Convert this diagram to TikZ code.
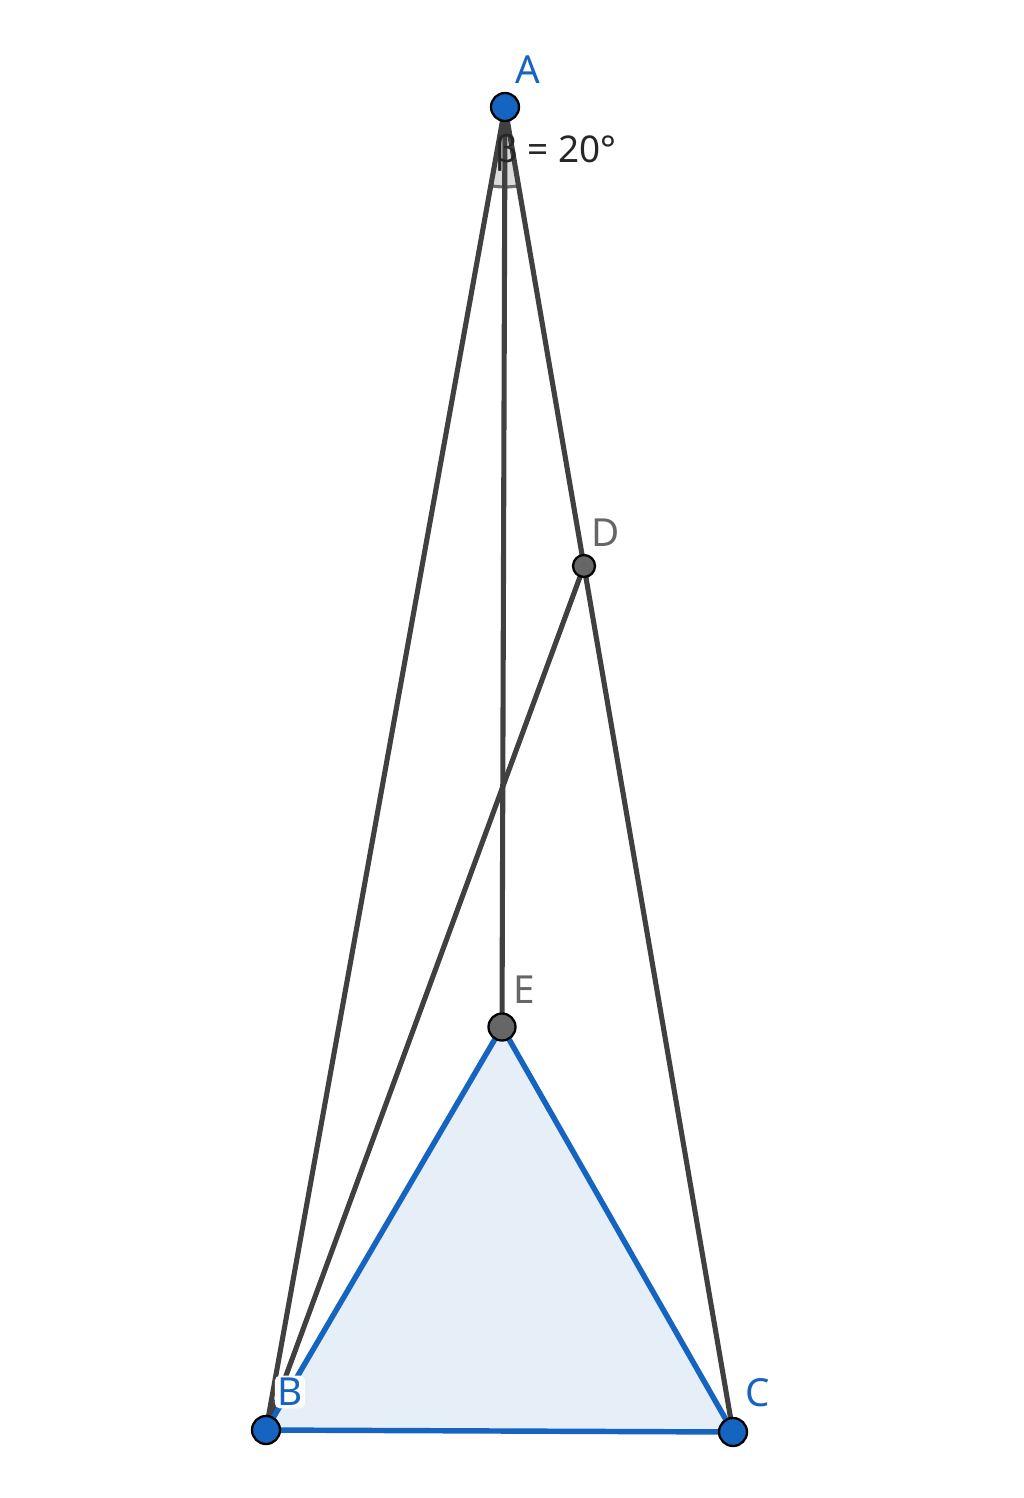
\documentclass[tikz,border=0pt]{standalone}
\usepackage{fontspec}
\setmainfont{Noto Sans}
\begin{document}
\begin{tikzpicture}[x=0.02cm,y=-0.02cm,
  seg/.style={draw=black!75,line width=2.9pt},
  bluept/.style={circle,fill=gblue,draw=black,line width=1.3pt,minimum size=0.56cm,inner sep=0pt},
  graypt/.style={circle,fill=black!60,draw=black,line width=1.3pt,inner sep=0pt},
  bluelab/.style={text=gblue,font=\fontsize{22}{24}\selectfont,inner sep=1pt},
  graylab/.style={text=black!60,font=\fontsize{22}{24}\selectfont,inner sep=1pt}]
\definecolor{gblue}{HTML}{1565C0}
\definecolor{gfill}{HTML}{E6EEF8}
\useasboundingbox (0,0) rectangle (1024,1498);
\coordinate (A) at (505,107);
\coordinate (B) at (266,1430);
\coordinate (C) at (733,1432);
\coordinate (D) at (584,566);
\coordinate (E) at (502,1027);
% triangle BEC
\fill[gfill] (B) -- (E) -- (C) -- cycle;
% angle sector
\fill[black!40,opacity=0.35] (A) -- ++(259.76:1.6cm) arc[start angle=259.76,end angle=279.76,radius=1.6cm] -- cycle;
\draw[black!70,line width=1.8pt,opacity=0.8] (A) ++(259.76:1.6cm) arc[start angle=259.76,end angle=279.76,radius=1.6cm];
% segments
\draw[seg] (A) -- (B);
\draw[seg] (A) -- (C);
\draw[seg] (A) -- (E);
\draw[seg] (B) -- (D);
\draw[draw=gblue,line width=3.1pt,line join=round] (B) -- (E) -- (C) -- cycle;
% points
\node[bluept] (pA) at (A) {};
\node[bluept] (pB) at (B) {};
\node[bluept] (pC) at (C) {};
\node[graypt,minimum size=0.44cm] (pD) at (D) {};
\node[graypt,minimum size=0.54cm] (pE) at (E) {};
% labels
\node[bluelab] (lA) at (528,70) {A};
\node[bluelab,fill=white,rounded corners=3pt,inner sep=1.5pt] (lB) at (290,1392) {B};
\node[bluelab] (lC) at (758,1393) {C};
\node[graylab] (lD) at (606,533) {D};
\node[graylab] (lE) at (524,990) {E};
\node[text=black!85,font=\fontsize{21}{24}\selectfont,anchor=west,inner sep=0pt] (beta) at (495,153) {β = 20°};
\end{tikzpicture}
\end{document}
